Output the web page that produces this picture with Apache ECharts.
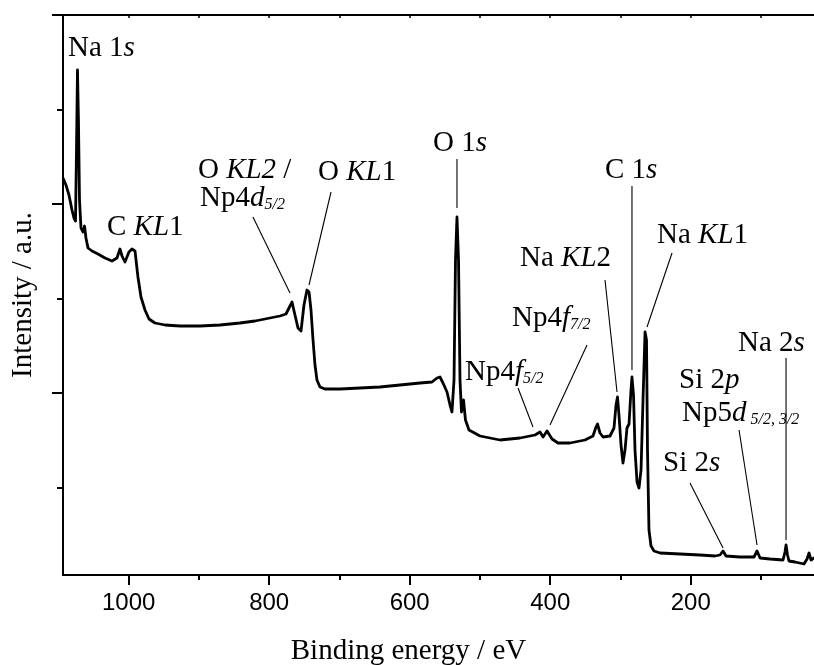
<!DOCTYPE html>
<html><head><meta charset="utf-8">
<script src="https://cdn.jsdelivr.net/npm/echarts@6/dist/echarts.min.js"></script>
<style>html,body{margin:0;padding:0;background:#fff}#c{width:814px;height:665px}</style>
</head><body><div id="c"></div>
<script>
// Binding energy (eV) and intensity (a.u.)
const energy = [
 1093.5,1089.3,1085.0,1080.7,1077.9,1075.7,1074.3,1072.9,1071.5,1070.0,
 1067.9,1065.1,1062.9,1060.8,1057.9,1052.2,1043.7,1033.7,1023.8,1016.7,
 1012.4,1009.5,1005.3,999.6,995.3,991.0,986.8,982.5,976.8,971.1,
 962.6,948.3,927.0,898.5,870.0,841.6,820.2,798.9,784.6,776.1,
 771.8,767.5,763.3,759.0,754.7,750.5,746.2,743.3,740.5,737.6,
 734.8,732.0,727.7,720.6,699.2,670.7,642.3,613.8,585.3,568.3,
 561.1,556.9,552.6,546.9,542.6,539.8,536.9,534.8,532.7,530.5,
 528.4,526.3,523.4,520.6,515.6,499.9,471.5,443.0,421.6,414.5,
 410.2,404.5,397.4,388.9,371.8,350.5,339.1,334.8,332.7,329.1,
 324.8,314.9,309.2,306.3,304.2,302.1,299.2,296.4,293.5,290.7,
 287.8,285.0,283.6,281.4,279.3,276.4,273.6,270.7,267.9,265.0,
 262.9,261.5,259.4,256.5,252.2,243.7,215.2,186.8,165.4,158.3,
 154.0,149.7,129.8,109.9,105.6,101.3,87.1,68.6,65.8,64.3,
 62.2,60.1,51.5,38.7,34.4,31.6,28.7,24.5,20.2
];
const intensity = [
 39.7,39.0,38.0,36.5,35.7,35.4,42.5,50.5,45.5,37.5,
 34.7,34.3,34.9,33.7,32.7,32.4,32.1,31.7,31.4,31.7,
 32.6,31.9,31.3,32.3,32.6,32.4,29.8,27.8,26.5,25.6,
 25.2,25.0,24.9,24.9,25.0,25.2,25.4,25.7,25.9,26.1,
 26.7,27.3,26.0,24.7,24.4,27.0,28.5,28.3,26.5,23.5,
 21.0,19.5,18.8,18.6,18.6,18.7,18.8,19.0,19.2,19.3,
 19.7,19.8,19.2,18.3,17.0,16.3,19.5,31.5,35.8,31.5,
 19.5,16.3,17.5,15.5,14.5,13.9,13.5,13.7,14.0,14.3,
 13.8,14.4,13.6,13.2,13.2,13.5,13.9,14.8,15.1,14.2,
 13.8,13.9,14.7,17.0,17.8,16.0,13.0,11.2,12.5,14.7,
 15.1,18.5,19.8,18.0,12.5,9.3,8.7,10.5,17.5,24.3,
 23.5,12.5,4.5,2.9,2.4,2.2,2.1,2.0,1.9,2.0,
 2.4,1.9,1.8,1.8,2.4,1.7,1.6,1.5,2.3,3.0,
 2.0,1.4,1.3,1.1,1.6,2.2,1.5,1.7,1.5
];

const xMin = 24.5, xMax = 1093.5;
const yMin = 0, yMax = 56;
const xMajorTicks = [1000, 800, 600, 400, 200];
const xTickLabels = [1000, 800, 600, 400, 200];
const xMinorTicks = [900, 700, 500, 300, 100];
const xTopTicks = [1000, 900, 800, 700, 600, 500, 400, 300, 200, 100];
const yMajorTicks = [18.2, 37.1, 56];
const yMinorTicks = [8.75, 27.65, 46.55];

// peak labels: rich text, anchor [energy, intensity] = left edge / vertical middle
const labelTexts = [
 '{n|Na 1}{i|s}',
 '{n|C }{i|KL}{n|1}',
 '{n|O }{i|KL2}{n| /}',
 '{n|Np4}{i|d}{s|5/2}',
 '{n|O }{i|KL}{n|1}',
 '{n|O 1}{i|s}',
 '{n|Np4}{i|f}{s|5/2}',
 '{n|Np4}{i|f}{s|7/2}',
 '{n|Na }{i|KL}{n|2}',
 '{n|C 1}{i|s}',
 '{n|Na }{i|KL}{n|1}',
 '{n|Na 2}{i|s}',
 '{n|Si 2}{i|p}',
 '{n|Np5}{i|d}{s| 5/2, 3/2}',
 '{n|Si 2}{i|s}'
];
const labelEnergy = [1086.4,1030.9,901.4,898.5,730.5,566.8,521.3,454.4,443.0,322.0,248.0,132.7,216.6,212.4,239.4];
const labelIntensity = [52.7,34.8,40.5,37.7,40.3,43.2,20.3,25.7,31.7,40.5,34.0,23.2,19.5,16.2,11.2];

// leader lines: [E1, I1, E2, I2]
const leaderLines = [
 [823.1,35.8,770.4,28.2],
 [712.0,38.3,743.3,29.0],
 [532.7,41.6,532.7,36.7],
 [445.8,18.7,424.5,14.8],
 [347.6,23.0,400.3,15.0],
 [322.0,29.5,304.9,18.3],
 [283.6,38.9,283.6,20.5],
 [226.6,32.2,262.2,24.8],
 [64.3,21.7,64.3,3.5],
 [131.2,14.5,105.6,3.0],
 [201.0,9.2,154.0,2.7]
];

const SERIF = 'Liberation Serif, Times New Roman, serif';
const SANS = 'Liberation Sans, Arial, sans-serif';
const black = '#000';

const chart = echarts.init(document.getElementById('c'), null, {renderer: 'canvas'});
const baseX = {type: 'value', inverse: true, min: xMin, max: xMax, splitLine: {show: false}};
const baseY = {type: 'value', min: yMin, max: yMax, splitLine: {show: false}};

chart.setOption({
  animation: false,
  backgroundColor: '#fff',
  grid: {left: 63, right: 0, top: 15, bottom: 90, containLabel: false, outerBoundsMode: 'none'},
  xAxis: [
    Object.assign({}, baseX, {
      position: 'bottom',
      axisLine: {show: true, onZero: false, lineStyle: {color: black, width: 2}},
      axisTick: {show: true, inside: false, length: 10, customValues: xMajorTicks, lineStyle: {color: black, width: 2}},
      axisLabel: {show: true, customValues: xTickLabels, margin: 16, fontFamily: SANS, fontSize: 24, color: black,
                  formatter: v => String(v)},
      name: 'Binding energy / eV', nameLocation: 'middle', nameGap: 62,
      nameTextStyle: {fontFamily: SERIF, fontSize: 29, color: black, padding: [0, 60, 0, 0]}
    }),
    Object.assign({}, baseX, {
      position: 'bottom',
      axisLine: {show: false, onZero: false},
      axisTick: {show: true, inside: false, length: 5, customValues: xMinorTicks, lineStyle: {color: black, width: 2}},
      axisLabel: {show: false}
    }),
    Object.assign({}, baseX, {
      position: 'top',
      axisLine: {show: true, onZero: false, lineStyle: {color: black, width: 2}},
      axisTick: {show: true, inside: true, length: 3, customValues: xTopTicks, lineStyle: {color: black, width: 1.5}},
      axisLabel: {show: false}
    })
  ],
  yAxis: [
    Object.assign({}, baseY, {
      position: 'left',
      axisLine: {show: true, onZero: false, lineStyle: {color: black, width: 2}},
      axisTick: {show: true, inside: false, length: 11, customValues: yMajorTicks, lineStyle: {color: black, width: 2}},
      axisLabel: {show: false},
      name: 'Intensity / a.u.', nameLocation: 'middle', nameGap: 25,
      nameTextStyle: {fontFamily: SERIF, fontSize: 29, color: black}
    }),
    Object.assign({}, baseY, {
      position: 'left',
      axisLine: {show: false, onZero: false},
      axisTick: {show: true, inside: false, length: 6, customValues: yMinorTicks, lineStyle: {color: black, width: 2}},
      axisLabel: {show: false}
    })
  ],
  series: [{
    type: 'line',
    xAxisIndex: 0, yAxisIndex: 0,
    data: energy.map((e, i) => [e, intensity[i]]),
    showSymbol: false, symbol: 'none',
    lineStyle: {color: black, width: 2.8, join: 'round'},
    clip: true
  }]
});

const toPx = (e, v) => chart.convertToPixel({seriesIndex: 0}, [e, v]);
const rich = {
  n: {fontFamily: SERIF, fontSize: 29, lineHeight: 30, fill: black},
  i: {fontFamily: SERIF, fontSize: 29, lineHeight: 30, fontStyle: 'italic', fill: black},
  s: {fontFamily: SERIF, fontSize: 16, lineHeight: 4, fontStyle: 'italic', verticalAlign: 'bottom', fill: black}
};
const graphics = [];
leaderLines.forEach(l => {
  const p1 = toPx(l[0], l[1]), p2 = toPx(l[2], l[3]);
  graphics.push({type: 'line', silent: true, z: 50,
    shape: {x1: p1[0], y1: p1[1], x2: p2[0], y2: p2[1]},
    style: {stroke: black, lineWidth: 1.1}});
});
labelTexts.forEach((t, k) => {
  const p = toPx(labelEnergy[k], labelIntensity[k]);
  graphics.push({type: 'text', silent: true, z: 60, x: p[0], y: p[1],
    style: {text: t, rich: rich, align: 'left', verticalAlign: 'middle',
            fontFamily: SERIF, fontSize: 29, fill: black}});
});
chart.setOption({graphic: graphics});
</script>
</body></html>
